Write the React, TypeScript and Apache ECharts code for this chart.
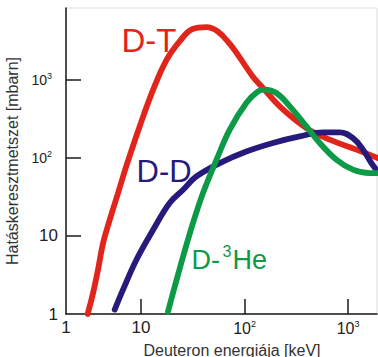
import { useEffect, useRef } from 'react';
import * as echarts from 'echarts';

// Deuteron energy [keV] and cross section [mbarn]
const dtEnergy = [3.05, 3.44, 3.84, 4.3, 4.99, 6.0, 7.28, 9.7, 13.1, 17.6, 23.7, 31.5, 42.8, 55, 72, 90, 120, 151, 219, 396, 665, 1205, 1936];
const dtSigma = [1.0, 1.86, 3.7, 8.13, 16.2, 35.6, 82, 254, 751, 1800, 3150, 4500, 4760, 4200, 2900, 1932, 1112, 789, 459, 242, 172, 128, 100];

const ddEnergy = [5.57, 6.7, 9.03, 13.1, 18.9, 25.5, 34.3, 57.6, 104, 188, 341, 573, 831, 1117, 1396, 1683, 1936];
const ddSigma = [1.14, 2.05, 4.97, 12.0, 26.5, 39.2, 58, 86, 121, 156, 189, 213, 213, 180, 128, 86, 67];

const heEnergy = [18.2, 21.2, 25.5, 31.8, 39.7, 53.6, 72, 104, 135, 157, 203, 274, 396, 533, 773, 1117, 1622, 1936];
const heSigma = [1.07, 2.26, 5.47, 14.7, 35.6, 95, 231, 507, 714, 751, 681, 459, 254, 156, 95, 71, 64, 64];

const xTickDecades = [1, 2, 3];
const yTickDecades = [1, 2, 3];
const xLabelText = ['1', '10', '10²', '10³'];
const yLabelText = ['1', '10', '10²', '10³'];

const X_MIN = 0.275;
const X_MAX = 3.28;
const Y_MIN = 0;
const Y_MAX = 3.923;

const FONT = '"Liberation Sans", Arial, sans-serif';
const RED = '#e1251b';
const BLUE = '#261b7c';
const GREEN = '#0c9a47';

const toLog = (xs: number[], ys: number[]) => xs.map((x, i) => [Math.log10(x), Math.log10(ys[i])]);

export default function App() {
  const ref = useRef<HTMLDivElement>(null);
  useEffect(() => {
    const chart = echarts.init(ref.current!, null, { renderer: 'svg' });
    const lineSeries = (name: string, xs: number[], ys: number[], color: string) => ({
      type: 'line',
      name,
      data: toLog(xs, ys),
      smooth: 0.4,
      symbol: 'none',
      clip: true,
      lineStyle: { color, width: 5.8, cap: 'round', join: 'round' },
    });
    chart.setOption({
      animation: false,
      grid: {
        left: 66,
        right: 1,
        top: 8,
        bottom: 43,
        containLabel: false,
        outerBoundsMode: 'none',
        show: true,
        borderColor: '#dcdcdc',
        borderWidth: 1,
        backgroundColor: 'transparent',
      },
      xAxis: {
        type: 'value',
        min: X_MIN,
        max: X_MAX,
        axisLine: { show: true, onZero: false, lineStyle: { color: '#1a1a1a', width: 1.5 } },
        axisTick: { show: true, inside: true, length: 15, customValues: xTickDecades, lineStyle: { color: '#1a1a1a', width: 1.5 } },
        axisLabel: {
          customValues: [X_MIN, ...xTickDecades],
          margin: 5,
          color: '#222',
          fontFamily: FONT,
          formatter: (v: number) => {
            const idx = v < 0.5 ? 0 : Math.round(v);
            const t = xLabelText[idx];
            if (idx >= 2) return `{b|10}{s|${idx}}`;
            return `{n|${t}}`;
          },
          rich: {
            n: { fontSize: 17, fontFamily: FONT, color: '#222' },
            b: { fontSize: 16, fontFamily: FONT, color: '#222' },
            s: { fontSize: 9, fontFamily: FONT, color: '#222', padding: [0, 0, 10, 0] },
          },
        },
        splitLine: { show: false },
        name: 'Deuteron energiája [keV]',
        nameLocation: 'middle',
        nameGap: 28,
        nameTextStyle: { fontSize: 16, fontFamily: FONT, color: '#333', padding: [0, 0, 0, 21] },
      },
      yAxis: {
        type: 'value',
        min: Y_MIN,
        max: Y_MAX,
        axisLine: { show: true, onZero: false, lineStyle: { color: '#1a1a1a', width: 1.5 } },
        axisTick: { show: true, inside: true, length: 15, customValues: yTickDecades, lineStyle: { color: '#1a1a1a', width: 1.5 } },
        axisLabel: {
          customValues: [Y_MIN, ...yTickDecades],
          margin: 8,
          color: '#222',
          fontFamily: FONT,
          formatter: (v: number) => {
            const idx = Math.round(v);
            const t = yLabelText[idx];
            if (idx >= 2) return `{b|10}{s|${idx}}{p|}`;
            return `{n|${t}}`;
          },
          rich: {
            n: { fontSize: 17, fontFamily: FONT, color: '#222' },
            b: { fontSize: 14, fontFamily: FONT, color: '#222' },
            s: { fontSize: 9, fontFamily: FONT, color: '#222', padding: [0, 0, 7, 0] },
            p: { width: 6 },
          },
        },
        splitLine: { show: false },
        name: 'Hatáskeresztmetszet [mbarn]',
        nameLocation: 'middle',
        nameGap: 41,
        nameTextStyle: { fontSize: 16, fontFamily: FONT, color: '#333' },
      },
      series: [
        lineSeries('D-T', dtEnergy, dtSigma, RED),
        lineSeries('D-D', ddEnergy, ddSigma, BLUE),
        lineSeries('D-3He', heEnergy, heSigma, GREEN),
      ],
      graphic: [
        { type: 'text', x: 121.5, y: 40.5, style: { text: 'D-T', fill: RED, fontSize: 33, fontFamily: FONT, verticalAlign: 'middle', align: 'left' } },
        { type: 'text', x: 136.5, y: 171.7, style: { text: 'D-D', fill: BLUE, fontSize: 31, fontFamily: FONT, verticalAlign: 'middle', align: 'left' } },
        { type: 'text', x: 191.5, y: 260.3, style: { text: 'D-', fill: GREEN, fontSize: 27, fontFamily: FONT, verticalAlign: 'middle', align: 'left' } },
        { type: 'text', x: 222.5, y: 251, style: { text: '3', fill: GREEN, fontSize: 16, fontFamily: FONT, verticalAlign: 'middle', align: 'left' } },
        { type: 'text', x: 232.5, y: 260.3, style: { text: 'He', fill: GREEN, fontSize: 27, fontFamily: FONT, verticalAlign: 'middle', align: 'left' } },
      ],
    });
    return () => chart.dispose();
  }, []);
  return <div ref={ref} style={{ position: 'absolute', left: 0, top: 0, width: 378, height: 357 }} />;
}
